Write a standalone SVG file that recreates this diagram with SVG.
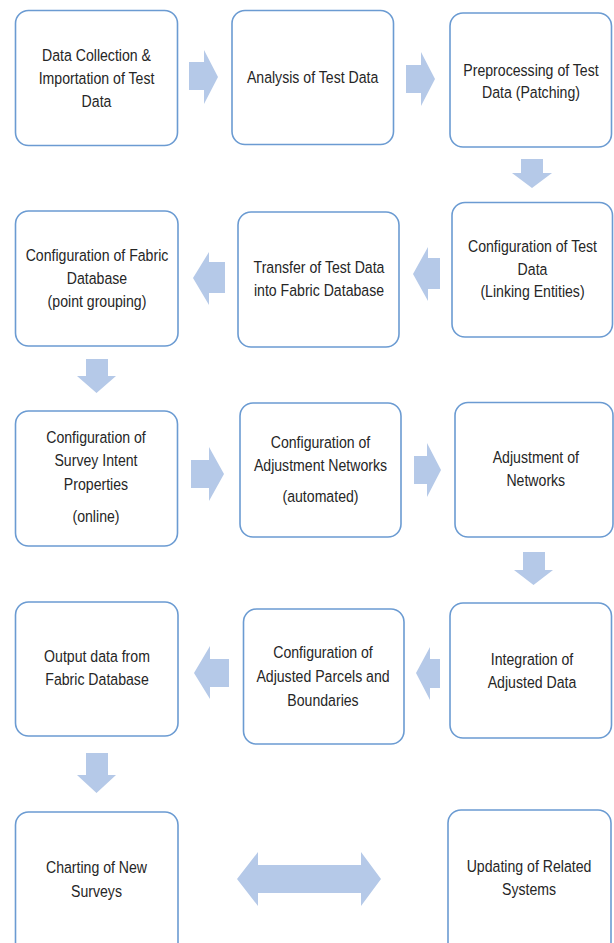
<svg xmlns="http://www.w3.org/2000/svg" width="614" height="943" viewBox="0 0 614 943">
<style>
.box{fill:#ffffff;stroke:#6b9bd2;stroke-width:1.6}
.arr{fill:#b5c9e8;stroke:none}
.t{font-family:"Liberation Sans",Arial,sans-serif;font-size:17px;fill:#262626;text-anchor:middle}
</style>
<rect width="614" height="943" fill="#ffffff"/>
<g id="connectors">
<polygon class="arr" points="189,62 204,62 204,50 218,77 204,104 204,90 189,90"/>
<polygon class="arr" points="406,65 421,65 421,52 435,79 421,106 421,93 406,93"/>
<polygon class="arr" points="521,159 543,159 543,173 552,173 532,188 512,173 521,173"/>
<polygon class="arr" points="440,258 428,258 428,247 413,274 428,301 428,289 440,289"/>
<polygon class="arr" points="225,262 209,262 209,252 193,278 209,305 209,293 225,293"/>
<polygon class="arr" points="86,359 108,359 108,376 116,376 96.5,393 77,376 86,376"/>
<polygon class="arr" points="191,460 209,460 209,447 224,474 209,501 209,488 191,488"/>
<polygon class="arr" points="414,456 427,456 427,443 441,470 427,497 427,484 414,484"/>
<polygon class="arr" points="523,552 545,552 545,570 553,570 533.5,585 514,570 523,570"/>
<polygon class="arr" points="440,659 430,659 430,647 416,673 430,700 430,688 440,688"/>
<polygon class="arr" points="229,659 210,659 210,646 194,673 210,699 210,687 229,687"/>
<polygon class="arr" points="86,753 108,753 108,775 116,775 96.5,793 77,775 86,775"/>
<polygon class="arr" points="237,879 258,852 258,865 361,865 361,852 381,879 361,906 361,893 258,893 258,906"/>
</g>
<g id="n1"><rect class="box" x="15.5" y="10.5" width="162" height="135" rx="13"/>
<text class="t" transform="matrix(0.83 0 0 1 96.5 0)"><tspan x="0" y="61">Data Collection &amp;</tspan><tspan x="0" y="84">Importation of Test</tspan><tspan x="0" y="107">Data</tspan></text></g>
<g id="n2"><rect class="box" x="232" y="10.5" width="161.5" height="134" rx="13"/>
<text class="t" transform="matrix(0.83 0 0 1 312.6 0)"><tspan x="0" y="83">Analysis of Test Data</tspan></text></g>
<g id="n3"><rect class="box" x="450" y="13" width="161.5" height="134" rx="13"/>
<text class="t" transform="matrix(0.83 0 0 1 531 0)"><tspan x="0" y="76">Preprocessing of Test</tspan><tspan x="0" y="98">Data (Patching)</tspan></text></g>
<g id="n4"><rect class="box" x="452" y="202.5" width="160.5" height="134.5" rx="13"/>
<text class="t" transform="matrix(0.83 0 0 1 532.5 0)"><tspan x="0" y="252">Configuration of Test</tspan><tspan x="0" y="275">Data</tspan><tspan x="0" y="297">(Linking Entities)</tspan></text></g>
<g id="n5"><rect class="box" x="238" y="212" width="161" height="135" rx="13"/>
<text class="t" transform="matrix(0.83 0 0 1 319 0)"><tspan x="0" y="273">Transfer of Test Data</tspan><tspan x="0" y="296">into Fabric Database</tspan></text></g>
<g id="n6"><rect class="box" x="15.5" y="211" width="162.5" height="135" rx="13"/>
<text class="t" transform="matrix(0.83 0 0 1 97 0)"><tspan x="0" y="261">Configuration of Fabric</tspan><tspan x="0" y="284">Database</tspan><tspan x="0" y="307">(point grouping)</tspan></text></g>
<g id="n7"><rect class="box" x="15.5" y="411" width="162" height="135" rx="13"/>
<text class="t" transform="matrix(0.83 0 0 1 96 0)"><tspan x="0" y="443">Configuration of</tspan><tspan x="0" y="466">Survey Intent</tspan><tspan x="0" y="490">Properties</tspan><tspan x="0" y="522">(online)</tspan></text></g>
<g id="n8"><rect class="box" x="240" y="403" width="161" height="134" rx="13"/>
<text class="t" transform="matrix(0.83 0 0 1 320.5 0)"><tspan x="0" y="448">Configuration of</tspan><tspan x="0" y="471">Adjustment Networks</tspan><tspan x="0" y="502">(automated)</tspan></text></g>
<g id="n9"><rect class="box" x="455" y="402.5" width="158" height="134.5" rx="13"/>
<text class="t" transform="matrix(0.83 0 0 1 535.8 0)"><tspan x="0" y="463">Adjustment of</tspan><tspan x="0" y="486">Networks</tspan></text></g>
<g id="n10"><rect class="box" x="450" y="603" width="161.5" height="135" rx="13"/>
<text class="t" transform="matrix(0.83 0 0 1 532 0)"><tspan x="0" y="665">Integration of</tspan><tspan x="0" y="688">Adjusted Data</tspan></text></g>
<g id="n11"><rect class="box" x="243.5" y="609" width="160.5" height="135" rx="13"/>
<text class="t" transform="matrix(0.83 0 0 1 323 0)"><tspan x="0" y="658">Configuration of</tspan><tspan x="0" y="682">Adjusted Parcels and</tspan><tspan x="0" y="706">Boundaries</tspan></text></g>
<g id="n12"><rect class="box" x="15.5" y="602" width="162.5" height="134" rx="13"/>
<text class="t" transform="matrix(0.83 0 0 1 97 0)"><tspan x="0" y="662">Output data from</tspan><tspan x="0" y="685">Fabric Database</tspan></text></g>
<g id="n13"><rect class="box" x="15.5" y="812" width="162.5" height="150" rx="13"/>
<text class="t" transform="matrix(0.83 0 0 1 96.5 0)"><tspan x="0" y="873">Charting of New</tspan><tspan x="0" y="897">Surveys</tspan></text></g>
<g id="n14"><rect class="box" x="448" y="810" width="163" height="150" rx="13"/>
<text class="t" transform="matrix(0.83 0 0 1 529 0)"><tspan x="0" y="872">Updating of Related</tspan><tspan x="0" y="895">Systems</tspan></text></g>
</svg>
